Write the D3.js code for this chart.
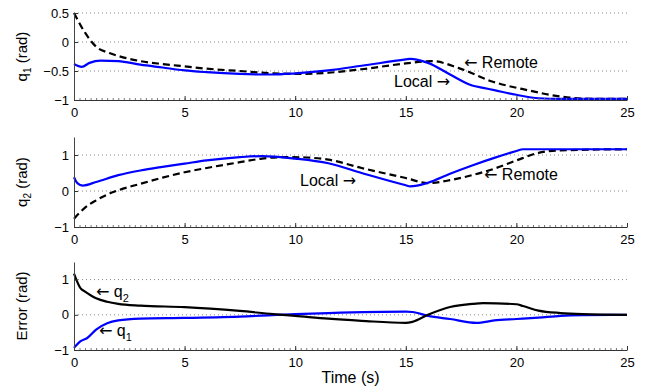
<!DOCTYPE html>
<html>
<head>
<meta charset="utf-8">
<script src="https://cdn.jsdelivr.net/npm/d3@7"></script>
<style>
  body { margin: 0; background: #fff; }
  svg text { font-family: "Liberation Sans", Arial, Helvetica, sans-serif; fill: #000; }
  .arrow { font-family: "DejaVu Sans", sans-serif; }
</style>
</head>
<body>
<div id="chart"></div>
<script>
// time ticks shared by all three panels
const timeTicks = [0, 5, 10, 15, 20, 25];

// panel 1: q1 (rad)
const q1LocalT = [0, 0.35, 0.7, 1.2, 2, 3, 4, 5, 6, 7.5, 9, 10, 11.5, 13, 15, 15.2, 16, 17, 18, 18.5, 19, 20, 21, 22, 25];
const q1LocalV = [-0.38, -0.43, -0.36, -0.32, -0.33, -0.39, -0.44, -0.49, -0.52, -0.55, -0.56, -0.54, -0.49, -0.41, -0.30, -0.29, -0.36, -0.56, -0.75, -0.79, -0.83, -0.91, -0.97, -0.98, -0.98];
const q1RemoteT = [0, 0.5, 1, 1.6, 2, 3, 4, 5, 6, 7.5, 9, 10, 11.5, 13, 15, 16.2, 17.4, 18.9, 20.5, 22, 23.5, 25];
const q1RemoteV = [0.5, 0.16, -0.08, -0.19, -0.24, -0.33, -0.38, -0.42, -0.46, -0.5, -0.54, -0.55, -0.53, -0.47, -0.37, -0.33, -0.45, -0.68, -0.83, -0.94, -0.98, -0.98];
const q1Ticks = [-1, -0.5, 0, 0.5];

// panel 2: q2 (rad)
const q2LocalT = [0, 0.15, 0.4, 1, 2, 3, 4, 5, 6, 7.5, 8.5, 10, 11.5, 13, 15, 15.2, 16, 17, 18, 19, 20, 20.3, 22, 25];
const q2LocalV = [0.38, 0.22, 0.15, 0.25, 0.44, 0.57, 0.67, 0.76, 0.85, 0.94, 0.97, 0.9, 0.77, 0.5, 0.16, 0.13, 0.23, 0.48, 0.71, 0.92, 1.11, 1.16, 1.16, 1.16];
const q2RemoteT = [0, 0.5, 1, 1.5, 2, 3, 4, 5, 6, 7.5, 8.5, 9.5, 10.5, 11.5, 13, 15, 16, 17, 18, 19, 20, 21, 22, 25];
const q2RemoteV = [-0.77, -0.46, -0.26, -0.1, 0.02, 0.2, 0.37, 0.52, 0.64, 0.8, 0.9, 0.94, 0.93, 0.87, 0.64, 0.36, 0.22, 0.3, 0.44, 0.62, 0.85, 1.06, 1.13, 1.16];
const q2Ticks = [-1, 0, 1];

// panel 3: Error (rad)
const errQ2T = [0, 0.3, 0.5, 1, 1.5, 2, 3, 5, 7.5, 9, 10, 11.5, 13, 15, 15.3, 16, 17, 18, 18.5, 20, 20.3, 21, 22, 23, 25];
const errQ2V = [1.17, 0.75, 0.66, 0.47, 0.37, 0.31, 0.26, 0.22, 0.11, 0.02, -0.03, -0.11, -0.17, -0.23, -0.2, 0, 0.22, 0.31, 0.33, 0.3, 0.25, 0.12, 0.05, 0.02, 0];
const errQ1T = [0, 0.3, 0.6, 1, 1.5, 2, 3, 5, 7.5, 10, 11.5, 15, 15.3, 16, 17, 18.2, 19, 20, 21, 22, 23, 25];
const errQ1V = [-0.94, -0.75, -0.66, -0.42, -0.24, -0.16, -0.11, -0.09, -0.05, 0.02, 0.05, 0.09, 0.08, -0.03, -0.12, -0.23, -0.16, -0.12, -0.08, -0.03, -0.01, 0];
const errTicks = [-1, 0, 1];

const width = 656, height = 391;
const left = 74, right = 627;
const blue = '#0000ff';

const svg = d3.select('#chart').append('svg')
  .attr('width', width)
  .attr('height', height);

const x = d3.scaleLinear().domain([0, 25]).range([left, right]);

function pts(ts, vs) {
  return ts.map((t, i) => [t, vs[i]]);
}

function drawPanel(top, bottom, domain, ticks, label, sub, series) {
  const y = d3.scaleLinear().domain(domain).range([bottom, top]);
  const g = svg.append('g');

  // dotted horizontal grid
  g.selectAll('.grid')
    .data(ticks.filter(t => t !== domain[0]))
    .join('line')
    .attr('x1', left).attr('x2', right)
    .attr('y1', d => y(d)).attr('y2', d => y(d))
    .attr('stroke', '#888')
    .attr('stroke-width', 1)
    .attr('stroke-dasharray', '1,3');

  const line = d3.line()
    .x(d => x(d[0]))
    .y(d => y(d[1]))
    .curve(d3.curveMonotoneX);

  series.forEach(s => {
    g.append('path')
      .attr('d', line(pts(s.t, s.v)))
      .attr('fill', 'none')
      .attr('stroke', s.color)
      .attr('stroke-width', 2.2)
      .attr('stroke-dasharray', s.dash || null);
  });

  // minor x ticks
  g.append('g')
    .attr('transform', `translate(0,${bottom})`)
    .call(d3.axisBottom(x).tickValues(d3.range(0, 25.001, 0.25)).tickSize(-2).tickSizeOuter(0).tickFormat(''))
    .call(a => a.select('.domain').remove())
    .call(a => a.selectAll('line').attr('stroke', '#777'));

  const xa = g.append('g')
    .attr('transform', `translate(0,${bottom})`)
    .call(d3.axisBottom(x).tickValues(timeTicks).tickSize(-4).tickSizeOuter(0).tickPadding(8));
  xa.select('.domain').attr('stroke', '#333');
  xa.selectAll('line').attr('stroke', '#333');
  xa.selectAll('text').attr('font-size', 13).attr('font-family', null);

  const ya = g.append('g')
    .attr('transform', `translate(${left},0)`)
    .call(d3.axisLeft(y).tickValues(ticks).tickSize(-4).tickSizeOuter(0).tickPadding(5)
      .tickFormat(d => d3.format('')(d).replace('-', '\u2212')));
  ya.select('.domain').attr('stroke', '#444');
  ya.selectAll('line').attr('stroke', '#333');
  ya.selectAll('text').attr('font-size', 13).attr('font-family', null);

  // y axis title
  const yt = svg.append('text')
    .attr('transform', `translate(27,${(top + bottom) / 2}) rotate(-90)`)
    .attr('text-anchor', 'middle')
    .attr('font-size', 15);
  yt.append('tspan').text(label);
  if (sub) {
    yt.append('tspan').attr('font-size', 10).attr('dy', 4).text(sub);
    yt.append('tspan').attr('dy', -4).text(' (rad)');
  }
  return y;
}

drawPanel(13, 100, [-1, 0.5], q1Ticks, 'q', '1', [
  { t: q1RemoteT, v: q1RemoteV, color: '#000', dash: '7,4' },
  { t: q1LocalT, v: q1LocalV, color: blue }
]);
drawPanel(137, 227, [-1, 1.5], q2Ticks, 'q', '2', [
  { t: q2RemoteT, v: q2RemoteV, color: '#000', dash: '7,4' },
  { t: q2LocalT, v: q2LocalV, color: blue }
]);
drawPanel(262, 350, [-1, 1.5], errTicks, 'Error (rad)', null, [
  { t: errQ1T, v: errQ1V, color: blue },
  { t: errQ2T, v: errQ2V, color: '#000' }
]);

// annotations
function leftNote(xp, yp, txt) {
  const t = svg.append('text').attr('x', xp).attr('y', yp).attr('font-size', 16);
  t.append('tspan').attr('class', 'arrow').text('\u2190');
  t.append('tspan').text(' ' + txt);
}
function rightNote(xp, yp, txt) {
  const t = svg.append('text').attr('x', xp).attr('y', yp).attr('font-size', 16);
  t.append('tspan').text(txt + ' ');
  t.append('tspan').attr('class', 'arrow').text('\u2192');
}
leftNote(464, 68, 'Remote');
rightNote(394, 87, 'Local');
leftNote(484, 180, 'Remote');
rightNote(300, 186, 'Local');

function qNote(xp, yp, sub) {
  const t = svg.append('text').attr('x', xp).attr('y', yp).attr('font-size', 16);
  t.append('tspan').attr('class', 'arrow').text('\u2190');
  t.append('tspan').text(' q');
  t.append('tspan').attr('font-size', 11).attr('dy', 5).text(sub);
}
qNote(96, 297, '2');
qNote(99, 336, '1');

svg.append('text')
  .attr('x', (left + right) / 2)
  .attr('y', 383)
  .attr('text-anchor', 'middle')
  .attr('font-size', 16)
  .text('Time (s)');
</script>
</body>
</html>
